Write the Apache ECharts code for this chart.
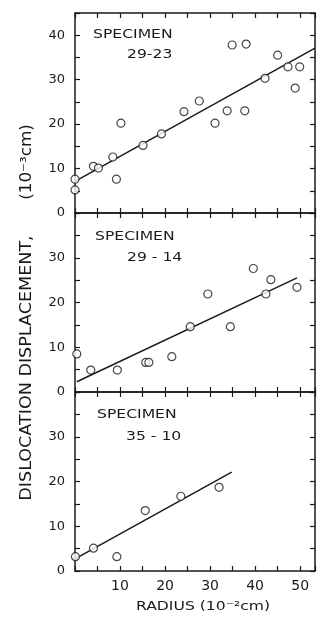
<!DOCTYPE html>
<html>
<head>
<meta charset="utf-8">
<title>Dislocation displacement vs radius</title>
<script src="https://cdn.jsdelivr.net/npm/echarts@6/dist/echarts.min.js"></script>
<style>
  html, body { margin: 0; padding: 0; background: #fff; }
  #chart { width: 321px; height: 619px; }
</style>
</head>
<body>
<div id="chart"></div>
<script>
// 读图得到的数据 (x: 10^-2 cm, y: 10^-3 cm)
const specimens = ['29-23', '29 - 14', '35 - 10']
const xTickLabels = [10, 20, 30, 40, 50]
const yTickLabels = [[0, 10, 20, 30, 40], [0, 10, 20, 30], [0, 10, 20, 30]]
const yMax = [45, 40, 40]
const xMax = 53.3

const s1X = [0, 0, 4.1, 5.2, 8.4, 9.2, 10.2, 15.1, 19.2, 24.2, 27.6, 31.1, 33.8, 34.9, 38.0, 37.7, 42.2, 45.0, 47.3, 48.9, 49.9]
const s1Y = [7.6, 5.2, 10.5, 10.1, 12.6, 7.6, 20.2, 15.2, 17.8, 22.8, 25.2, 20.2, 23.0, 37.8, 38.0, 23.0, 30.3, 35.5, 32.9, 28.1, 32.9]
const fit1X = [0, 53.3]
const fit1Y = [7.1, 37.1]

const s2X = [0.4, 3.5, 9.4, 15.7, 16.4, 21.5, 25.6, 29.5, 34.5, 39.6, 42.4, 43.5, 49.3]
const s2Y = [8.5, 4.9, 4.9, 6.6, 6.6, 7.9, 14.6, 21.9, 14.6, 27.6, 21.9, 25.1, 23.4]
const fit2X = [0.4, 49.3]
const fit2Y = [2.3, 25.5]

const s3X = [0.1, 4.1, 9.3, 15.6, 23.5, 32.0]
const s3Y = [3.2, 5.1, 3.2, 13.5, 16.7, 18.7]
const fit3X = [0, 34.8]
const fit3Y = [2.7, 22.1]

const ink = '#1a1a1a'
const font = 'DejaVu Sans'
const pair = (xs, ys) => xs.map((x, i) => [x, ys[i]])

const points = [pair(s1X, s1Y), pair(s2X, s2Y), pair(s3X, s3Y)]
const fits = [pair(fit1X, fit1Y), pair(fit2X, fit2Y), pair(fit3X, fit3Y)]

// onZero 关掉，不然上边轴/右边轴会被挪到 0 的位置
const frameLine = { show: true, onZero: false, lineStyle: { color: ink, width: 1.5 } }
const frameTick = { show: true, inside: true, length: 5, lineStyle: { color: ink, width: 1.2 } }

const xAxes = []
const yAxes = []
const series = []
for (let g = 0; g < 3; g++) {
  // 下边轴（最下面一格显示刻度文字）和上边轴
  xAxes.push({
    type: 'value', gridIndex: g, position: 'bottom', min: 0, max: xMax, interval: 5,
    axisLine: frameLine, axisTick: frameTick, splitLine: { show: false },
    axisLabel: {
      show: g === 2, margin: 8, color: ink, fontSize: 14, fontFamily: font,
      formatter: v => xTickLabels.includes(v) ? String(v) : ''
    }
  })
  xAxes.push({
    type: 'value', gridIndex: g, position: 'top', min: 0, max: xMax, interval: 5,
    axisLine: frameLine, axisTick: frameTick, splitLine: { show: false },
    axisLabel: { show: false }
  })
  yAxes.push({
    type: 'value', gridIndex: g, position: 'left', min: 0, max: yMax[g], interval: 5,
    axisLine: frameLine, axisTick: frameTick, splitLine: { show: false },
    axisLabel: {
      margin: 10, color: ink, fontSize: 13, fontFamily: font,
      formatter: v => yTickLabels[g].includes(v) ? String(v) : ''
    }
  })
  yAxes.push({
    type: 'value', gridIndex: g, position: 'right', min: 0, max: yMax[g], interval: 5,
    axisLine: frameLine, axisTick: frameTick, splitLine: { show: false },
    axisLabel: { show: false }
  })
  series.push({
    type: 'line', xAxisIndex: g * 2, yAxisIndex: g * 2, data: fits[g],
    showSymbol: false, lineStyle: { color: ink, width: 1.5 }, z: 2
  })
  series.push({
    type: 'scatter', xAxisIndex: g * 2, yAxisIndex: g * 2, data: points[g],
    symbol: 'circle', symbolSize: 8, clip: false,
    itemStyle: { color: '#fff', borderColor: ink, borderWidth: 1.2 }, z: 3
  })
}

const label = (text, x, y, size, sx) => ({
  type: 'text', x, y, scaleX: sx, silent: true,
  style: {
    text, fill: ink, fontSize: size, fontFamily: font,
    align: 'left', verticalAlign: 'middle', textAlign: 'left', textVerticalAlign: 'middle'
  }
})

const specY = [[35, 55], [237, 258], [415, 437]]
const specX = [[93, 127], [95, 127], [97, 126]]
const graphics = []
specimens.forEach((name, i) => {
  graphics.push(label('SPECIMEN', specX[i][0], specY[i][0], 12, 1.3))
  graphics.push(label(name, specX[i][1], specY[i][1], 12, 1.3))
})

// 坐标轴标题
const titleStyle = (text, size) => ({
  text, fill: ink, fontSize: size, fontFamily: font,
  align: 'center', verticalAlign: 'middle', textAlign: 'center', textVerticalAlign: 'middle'
})
graphics.push({ type: 'text', x: 27, y: 368, rotation: Math.PI / 2, scaleX: 1.17, silent: true,
  style: titleStyle('DISLOCATION DISPLACEMENT,', 15) })
graphics.push({ type: 'text', x: 27, y: 162, rotation: Math.PI / 2, scaleX: 1.12, silent: true,
  style: titleStyle('(10\u207B\u00B3cm)', 15) })
graphics.push({ type: 'text', x: 203, y: 607, scaleX: 1.2, silent: true,
  style: titleStyle('RADIUS (10\u207B\u00B2cm)', 13) })

const option = {
  backgroundColor: '#fff',
  animation: false,
  grid: [
    { left: 75, top: 13, width: 240, height: 200 },
    { left: 75, top: 213, width: 240, height: 179 },
    { left: 75, top: 392, width: 240, height: 179 }
  ],
  xAxis: xAxes,
  yAxis: yAxes,
  series,
  graphic: graphics
}

const myChart = echarts.init(document.getElementById('chart'))
myChart.setOption(option)
window.addEventListener('resize', () => myChart.resize())
</script>
</body>
</html>
